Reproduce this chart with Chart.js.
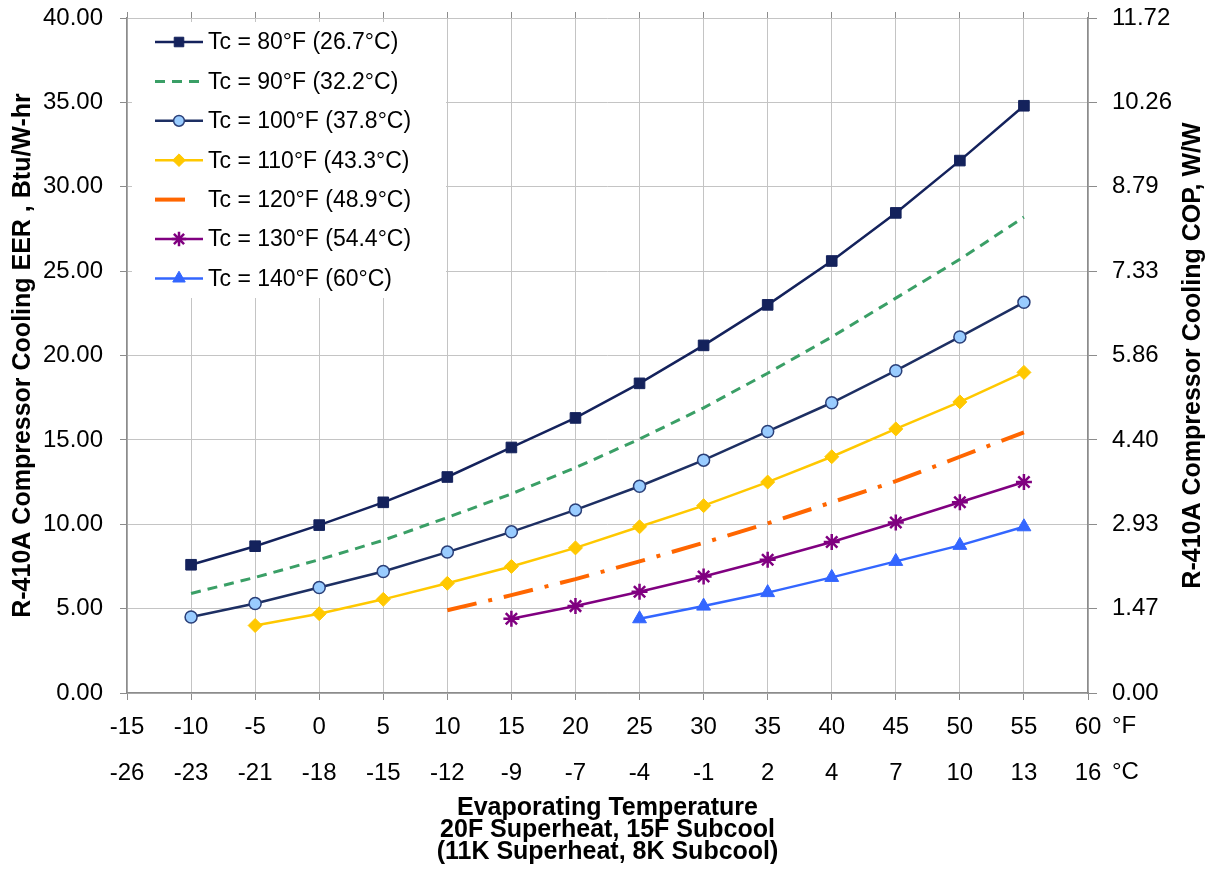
<!DOCTYPE html>
<html><head><meta charset="utf-8">
<script src="https://cdn.jsdelivr.net/npm/chart.js@4.4.1/dist/chart.umd.min.js"></script>
<style>html,body{margin:0;padding:0;background:#fff;}#wrap{width:1221px;height:884px;}</style>
</head><body><div id="wrap"><canvas id="c" width="1221" height="884"></canvas></div>
<script>
// ---- data ----
const evapF = [-10, -5, 0, 5, 10, 15, 20, 25, 30, 35, 40, 45, 50, 55];
const xTicksF = ['-15','-10','-5','0','5','10','15','20','25','30','35','40','45','50','55','60'];
const xTicksC = ['-26','-23','-21','-18','-15','-12','-9','-7','-4','-1','2','4','7','10','13','16'];
const eerTicks = ['0.00','5.00','10.00','15.00','20.00','25.00','30.00','35.00','40.00'];
const copTicks = ['0.00','1.47','2.93','4.40','5.86','7.33','8.79','10.26','11.72'];
const seriesLabels = ['Tc = 80°F (26.7°C)','Tc = 90°F (32.2°C)','Tc = 100°F (37.8°C)','Tc = 110°F (43.3°C)','Tc = 120°F (48.9°C)','Tc = 130°F (54.4°C)','Tc = 140°F (60°C)'];
const tc80  = [7.6, 8.7, 9.95, 11.3, 12.8, 14.55, 16.3, 18.35, 20.6, 23.0, 25.6, 28.45, 31.55, 34.8];
const tc90  = [5.9, 6.85, 7.9, 9.05, 10.4, 11.8, 13.35, 15.05, 16.9, 18.95, 21.1, 23.4, 25.7, 28.2];
const tc100 = [4.5, 5.3, 6.25, 7.2, 8.35, 9.55, 10.85, 12.25, 13.8, 15.5, 17.2, 19.1, 21.1, 23.15];
const tc110 = [null, 4.0, 4.7, 5.55, 6.5, 7.5, 8.6, 9.85, 11.1, 12.5, 14.0, 15.65, 17.25, 19.0];
const tc120 = [null, null, null, null, 4.9, 5.8, 6.75, 7.8, 8.9, 10.05, 11.3, 12.55, 14.0, 15.45];
const tc130 = [null, null, null, null, null, 4.4, 5.15, 6.0, 6.9, 7.9, 8.95, 10.1, 11.3, 12.5];
const tc140 = [null, null, null, null, null, null, null, 4.4, 5.15, 5.95, 6.85, 7.8, 8.75, 9.85];
const xTitle = ['Evaporating Temperature', '20F Superheat, 15F Subcool', '(11K Superheat, 8K Subcool)'];
const yTitle = 'R-410A Compressor Cooling EER , Btu/W-hr';
const y2Title = 'R-410A Compressor Cooling COP, W/W';

const FONT = "'Liberation Sans', Arial, sans-serif";
const GRID = '#c4c4c4';
const AXIS = '#8c8c8c';

function pts(vals) {
  const out = [];
  vals.forEach((v, i) => { if (v !== null) out.push({x: evapF[i], y: v}); });
  return out;
}

const datasets = [
  {label: seriesLabels[0], data: pts(tc80), borderColor: '#14225c', backgroundColor: '#14225c', borderWidth: 2.5,
   pointStyle: 'rect', pointRadius: 7.5, pointBorderWidth: 1, pointBackgroundColor: '#14225c', pointBorderColor: '#14225c'},
  {label: seriesLabels[1], data: pts(tc90), borderColor: '#3a9f66', backgroundColor: '#3a9f66', borderWidth: 3,
   borderDash: [10, 7], pointRadius: 0},
  {label: seriesLabels[2], data: pts(tc100), borderColor: '#1d2f63', backgroundColor: '#99ccff', borderWidth: 2.5,
   pointStyle: 'circle', pointRadius: 6, pointBorderWidth: 1.5, pointBackgroundColor: '#99ccff', pointBorderColor: '#2a3f78'},
  {label: seriesLabels[3], data: pts(tc110), borderColor: '#ffc800', backgroundColor: '#ffc800', borderWidth: 2.5,
   pointStyle: 'rectRot', pointRadius: 7, pointBorderWidth: 1, pointBackgroundColor: '#ffc800', pointBorderColor: '#ffc800'},
  {label: seriesLabels[4], data: pts(tc120), borderColor: '#ff6600', backgroundColor: '#ff6600', borderWidth: 4,
   borderDash: [30, 12, 4, 12], pointRadius: 0},
  {label: seriesLabels[5], data: pts(tc130), borderColor: '#800080', backgroundColor: '#800080', borderWidth: 2.5,
   pointStyle: 'star', pointRadius: 8, pointBorderWidth: 2.5, pointBackgroundColor: '#800080', pointBorderColor: '#800080'},
  {label: seriesLabels[6], data: pts(tc140), borderColor: '#3366ff', backgroundColor: '#3366ff', borderWidth: 2.5,
   pointStyle: 'triangle', pointRadius: 8, pointBorderWidth: 1, pointBackgroundColor: '#3366ff', pointBorderColor: '#3366ff'}
];

const legendPlugin = {
  id: 'insideLegend',
  beforeDatasetsDraw(chart) {
    const ctx = chart.ctx;
    ctx.save();
    ctx.fillStyle = '#ffffff';
    ctx.fillRect(132, 22, 314, 276);
    const x0 = 155, x1 = 203, tx = 208, y0 = 42, dy = 39.4;
    ctx.font = '23px ' + FONT;
    ctx.textBaseline = 'middle';
    ctx.textAlign = 'left';
    chart.data.datasets.forEach((ds, i) => {
      const y = y0 + i * dy;
      ctx.save();
      ctx.strokeStyle = ds.borderColor;
      ctx.lineWidth = ds.borderWidth;
      ctx.setLineDash(ds.borderDash || []);
      ctx.beginPath();
      ctx.moveTo(x0, y);
      ctx.lineTo(ds.borderDash && ds.borderDash.length > 2 ? 188 : x1, y);
      ctx.stroke();
      ctx.restore();
      if (ds.pointRadius > 0) {
        ctx.save();
        ctx.fillStyle = ds.pointBackgroundColor;
        ctx.strokeStyle = ds.pointBorderColor;
        ctx.lineWidth = ds.pointBorderWidth;
        Chart.helpers.drawPoint(ctx, {pointStyle: ds.pointStyle, radius: ds.pointRadius * 0.9, borderWidth: ds.pointBorderWidth, rotation: 0}, (x0 + x1) / 2, y);
        ctx.restore();
      }
      ctx.fillStyle = '#000';
      ctx.fillText(ds.label, tx, y + 1);
    });
    ctx.restore();
  },
  afterDraw(chart) {
    const ctx = chart.ctx;
    const xs = chart.scales.x;
    ctx.save();
    ctx.fillStyle = '#000';
    ctx.font = '24px ' + FONT;
    ctx.textBaseline = 'middle';
    ctx.textAlign = 'left';
    const ux = xs.getPixelForValue(60) + 24;
    ctx.fillText('°F', ux, 726);
    ctx.fillText('°C', ux, 772);
    // right axis title (reads bottom-to-top)
    ctx.font = 'bold 25px ' + FONT;
    ctx.textAlign = 'center';
    ctx.translate(1193, (chart.chartArea.top + chart.chartArea.bottom) / 2);
    ctx.rotate(-Math.PI / 2);
    ctx.fillText(y2Title, 0, 0);
    ctx.restore();
  }
};

Chart.defaults.font.family = FONT;
Chart.defaults.color = '#000';

function fixV(w) { return (s) => { s.width = w; s.paddingTop = 0; s.paddingBottom = 0; }; }
function fixH(h) { return (s) => { s.height = h; s.paddingLeft = 0; s.paddingRight = 0; }; }

new Chart(document.getElementById('c'), {
  type: 'line',
  data: {datasets},
  plugins: [legendPlugin],
  options: {
    responsive: false,
    animation: false,
    devicePixelRatio: 1,
    layout: {padding: 0},
    elements: {line: {tension: 0, fill: false}},
    plugins: {legend: {display: false}, tooltip: {enabled: false}},
    scales: {
      x: {
        type: 'linear', position: 'bottom', min: -15, max: 60, weight: 0,
        afterFit: fixH(48),
        afterBuildTicks: (s) => { s.ticks = xTicksF.map(v => ({value: Number(v)})); },
        ticks: {callback: (v, i) => xTicksF[i], font: {size: 24}, padding: 13, maxRotation: 0, autoSkip: false},
        grid: {color: GRID, lineWidth: 1, tickLength: 7, tickColor: AXIS, drawTicks: true},
        border: {color: AXIS, width: 1.5}
      },
      x2: {
        type: 'linear', position: 'bottom', min: -15, max: 60, weight: 1,
        afterFit: fixH(143),
        afterBuildTicks: (s) => { s.ticks = xTicksF.map(v => ({value: Number(v)})); },
        ticks: {callback: (v, i) => xTicksC[i], font: {size: 24}, padding: 18, maxRotation: 0, autoSkip: false},
        grid: {display: false, drawTicks: false},
        border: {display: false},
        title: {display: true, text: xTitle, font: {size: 25, weight: 'bold', lineHeight: '22px'}, padding: {top: 0, bottom: 21}}
      },
      xTop: {
        type: 'linear', position: 'top', min: -15, max: 60,
        afterFit: fixH(18),
        afterBuildTicks: (s) => { s.ticks = xTicksF.map(v => ({value: Number(v)})); },
        ticks: {display: false},
        grid: {drawOnChartArea: false, drawTicks: true, tickLength: 6, tickColor: AXIS},
        border: {display: false}
      },
      y: {
        type: 'linear', position: 'left', min: 0, max: 40,
        afterFit: fixV(127),
        afterBuildTicks: (s) => { s.ticks = eerTicks.map(v => ({value: Number(v)})); },
        ticks: {callback: (v, i) => eerTicks[i], font: {size: 24}, padding: 17},
        grid: {color: GRID, lineWidth: 1, tickLength: 7, tickColor: AXIS},
        border: {color: AXIS, width: 1.5},
        title: {display: true, text: yTitle, font: {size: 25, weight: 'bold'}, padding: {top: 8, bottom: 0}}
      },
      y2: {
        type: 'linear', position: 'right', min: 0, max: 40,
        afterFit: fixV(133),
        afterBuildTicks: (s) => { s.ticks = eerTicks.map(v => ({value: Number(v)})); },
        ticks: {callback: (v, i) => copTicks[i], font: {size: 24}, padding: 15},
        grid: {drawOnChartArea: false, tickLength: 9, tickColor: AXIS, color: AXIS},
        border: {color: AXIS, width: 1.5}
      }
    }
  }
});
</script>
</body></html>
